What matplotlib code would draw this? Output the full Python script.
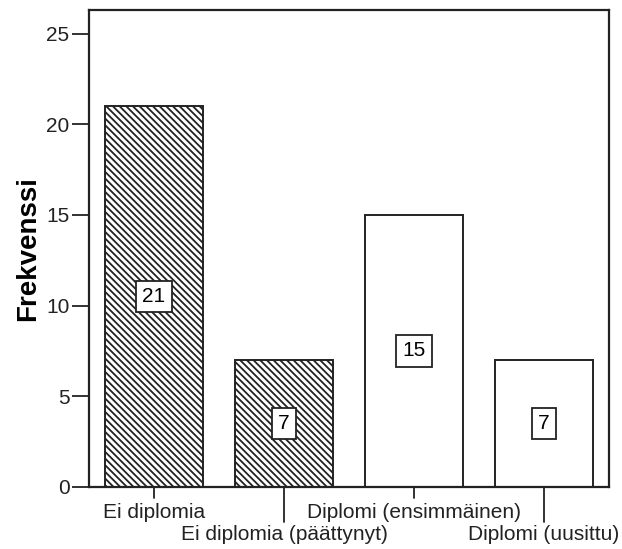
import matplotlib
matplotlib.use("Agg")
import matplotlib.pyplot as plt

plt.rcParams["font.family"] = ["Liberation Sans", "DejaVu Sans"]
plt.rcParams["hatch.linewidth"] = 1.3

categories = ["Ei diplomia", "Ei diplomia (päättynyt)",
              "Diplomi (ensimmäinen)", "Diplomi (uusittu)"]
counts = [21, 7, 15, 7]
hatches = ["\\" * 5, "\\" * 5, "", ""]
yticks = [0, 5, 10, 15, 20, 25]

fig = plt.figure(figsize=(6.22, 5.49), dpi=100)
ax = fig.add_axes([89 / 622, 62 / 549, 520 / 622, 477 / 549])

for i, (c, h) in enumerate(zip(counts, hatches)):
    ax.bar(i, c, width=0.75, color="white", edgecolor="#222222",
           linewidth=1.4, hatch=h, zorder=2)
    ax.text(i, c / 2, str(c), ha="center", va="center", fontsize=15,
            zorder=3,
            bbox=dict(boxstyle="square,pad=0.3", fc="white", ec="#222222", lw=1.3))

ax.set_xlim(-0.5, 3.5)
ax.set_ylim(0, 26.3)
ax.set_yticks(yticks)
ax.tick_params(axis="y", length=12, width=1.3, labelsize=15, pad=2, colors="#222222")
ax.set_xticks([])
for s in ax.spines.values():
    s.set_linewidth(1.6)
    s.set_color("#222222")

# staggered category labels with short/long ticks (offsets in pixels)
for i, name in enumerate(categories):
    long = i % 2 == 1
    tick_px = 35 if long else 11
    ax.annotate("", xy=(i, 0), xycoords="data",
                xytext=(0, -tick_px), textcoords="offset pixels",
                arrowprops=dict(arrowstyle="-", color="#222222", lw=1.3,
                                shrinkA=0, shrinkB=0),
                annotation_clip=False)
    ypix = 535 if long else 512
    ax.annotate(name, xy=(i, 0), xycoords="data",
                xytext=(0, -(ypix - 487)), textcoords="offset pixels",
                ha="center", va="center", fontsize=15, color="#222222",
                annotation_clip=False)

ax.set_ylabel("Frekvenssi", fontsize=20, fontweight="bold", labelpad=4)

fig.savefig("out.png", dpi=100)
